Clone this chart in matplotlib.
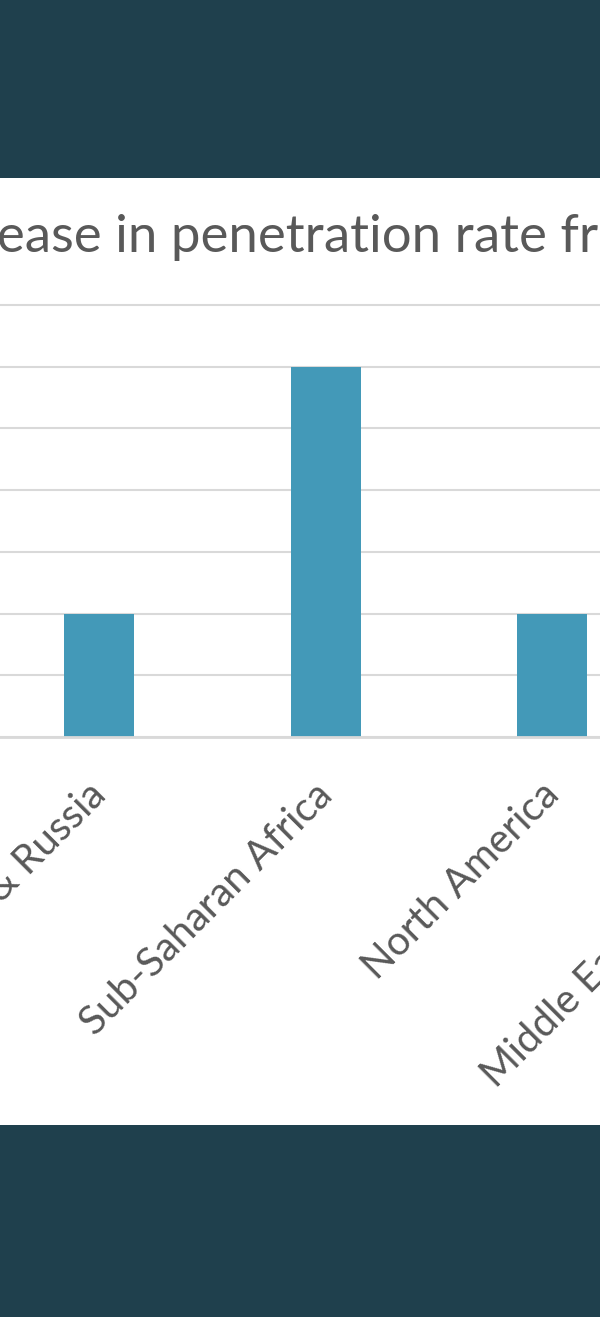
import matplotlib.pyplot as plt
from matplotlib.patches import Rectangle
from matplotlib.transforms import ScaledTranslation

regions = ["Europe & Russia", "Sub-Saharan Africa", "North America", "Middle East & N. Africa"]
increase = [2, 6, 2, 3]
yticks = [0, 1, 2, 3, 4, 5, 6, 7]
title = "Increase in penetration rate from 2015 to 2020"

band = "#1F404D"
bar_color = "#4399B8"
grid_color = "#D9D9D9"
text_color = "#595959"
font = "Lato"

W, H = 600, 1317
fig = plt.figure(figsize=(W / 100, H / 100), dpi=100)
fig.patch.set_facecolor("white")

# dark bands top and bottom
fig.patches.append(Rectangle((0, 1 - 178 / H), 1, 178 / H, transform=fig.transFigure,
                             facecolor=band, edgecolor="none", zorder=0))
fig.patches.append(Rectangle((0, 0), 1, 192 / H, transform=fig.transFigure,
                             facecolor=band, edgecolor="none", zorder=0))

# the picture is a crop of a wider chart: the axes run past the right edge
AW = 900
ax = fig.add_axes([0, (H - 737) / H, AW / W, (737 - 305) / H])
ax.set_facecolor("none")
step = 226.5
x0 = 99

ax.bar(range(len(regions)), increase, width=70 / step, color=bar_color, zorder=2)

ax.set_yticks(yticks)
ax.yaxis.grid(True, color=grid_color, linewidth=1.5, zorder=0)
for s in ["left", "right", "top"]:
    ax.spines[s].set_visible(False)
ax.spines["bottom"].set_color(grid_color)
ax.spines["bottom"].set_linewidth(2)
ax.spines["bottom"].set_zorder(3)
for gl in ax.yaxis.get_gridlines():
    gl.set_clip_on(False)
ax.tick_params(length=0)
ax.set_yticklabels([])

ax.set_xticks(range(len(regions)))
ax.set_xticklabels(regions, rotation=45, ha="right", rotation_mode="anchor",
                   fontsize=29, color=text_color, family=font)
ax.tick_params(axis="x", pad=28)
shift = ScaledTranslation(-12 / 100, 0, fig.dpi_scale_trans)
for lab in ax.get_xticklabels():
    lab.set_transform(lab.get_transform() + shift)

# view limits last, set_xticks would widen them otherwise
ax.set_xlim(-x0 / step, (AW - x0) / step)
ax.set_ylim(0, 7)

# title, placed so that "ease in ..." begins at the left edge
fs_title = 38
t = fig.text(0, 1 - 252 / H, title, fontsize=fs_title, color=text_color, family=font,
             ha="left", va="baseline")
fig.canvas.draw()
r = fig.canvas.get_renderer()
probe = fig.text(0, 0, "Incr", fontsize=fs_title, family=font)
wpx = probe.get_window_extent(r).width
probe.remove()
t.set_x(-(wpx + 3) / W)

fig.savefig("out.png", dpi=100)
